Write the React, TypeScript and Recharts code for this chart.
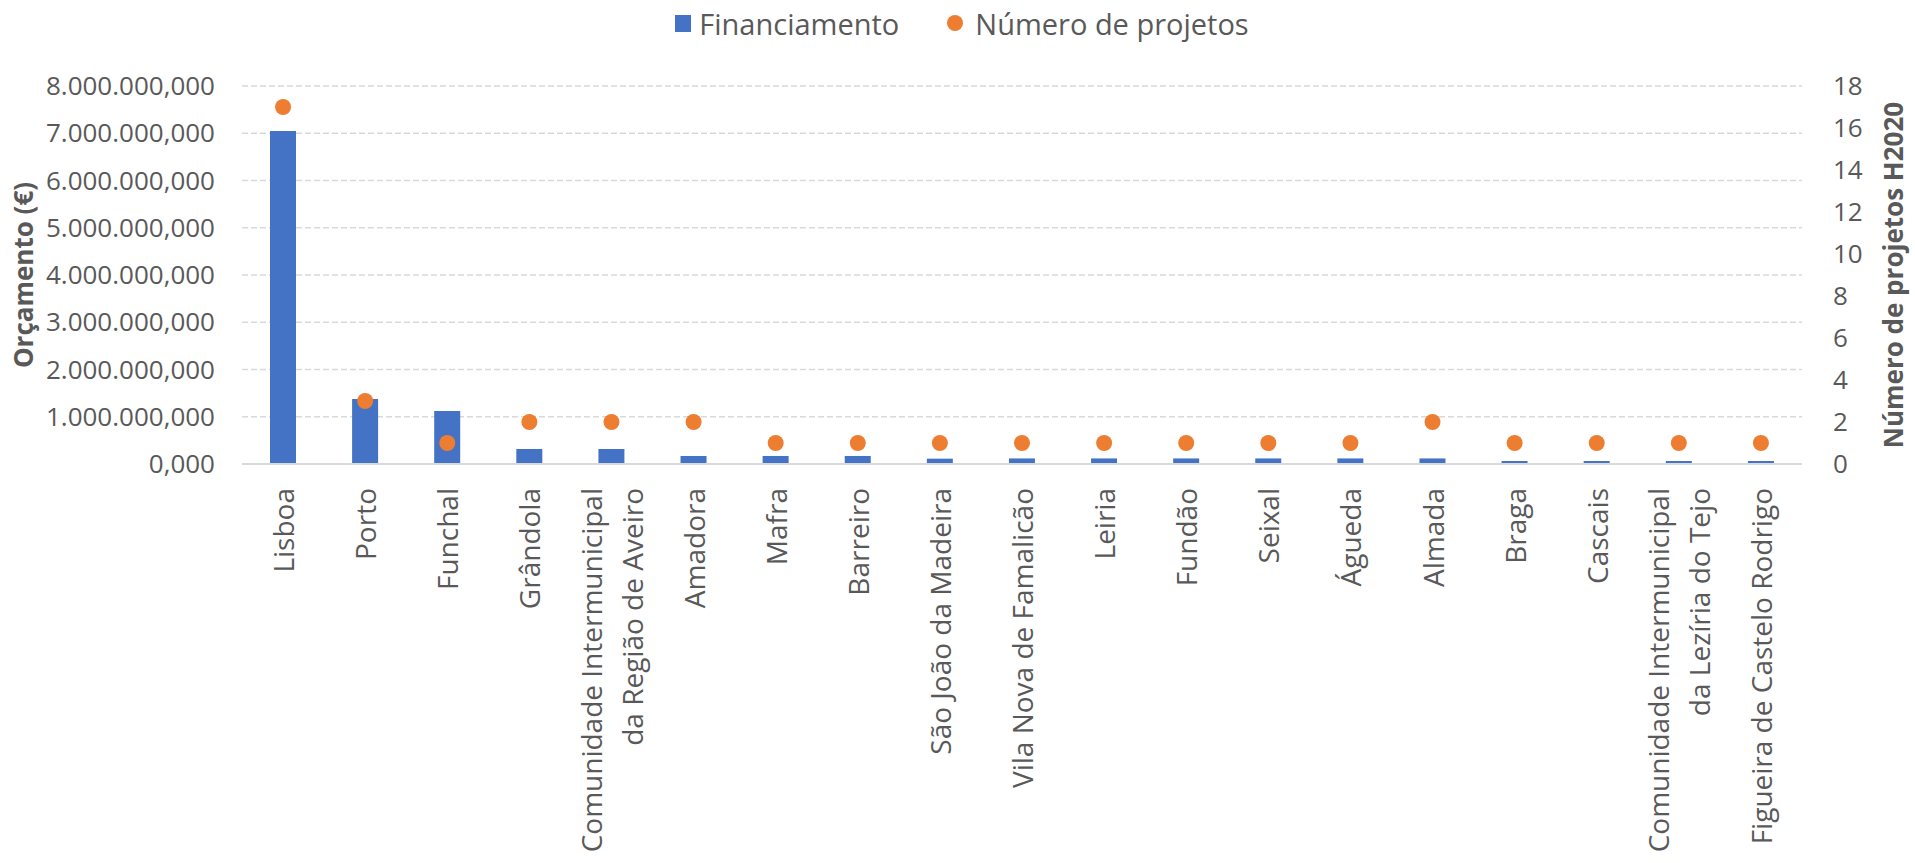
import React from "react";
import {
  ComposedChart,
  Bar,
  Line,
  XAxis,
  YAxis,
  CartesianGrid,
  Legend,
} from "recharts";

// categorias (quebra de linha onde o Excel parte o rótulo)
const CATEGORIES = [
  "Lisboa",
  "Porto",
  "Funchal",
  "Grândola",
  "Comunidade Intermunicipal\nda Região de Aveiro",
  "Amadora",
  "Mafra",
  "Barreiro",
  "São João da Madeira",
  "Vila Nova de Famalicão",
  "Leiria",
  "Fundão",
  "Seixal",
  "Águeda",
  "Almada",
  "Braga",
  "Cascais",
  "Comunidade Intermunicipal\nda Lezíria do Tejo",
  "Figueira de Castelo Rodrigo",
];

const FINANCIAMENTO = [
  7050000, 1375000, 1120000, 318000, 318000, 170000, 170000, 170000, 113000,
  118000, 118000, 118000, 118000, 118000, 118000, 64000, 64000, 64000, 64000,
];

const PROJETOS = [17, 3, 1, 2, 2, 2, 1, 1, 1, 1, 1, 1, 1, 1, 2, 1, 1, 1, 1];

const LEFT_TICKS = [0, 1000000, 2000000, 3000000, 4000000, 5000000, 6000000, 7000000, 8000000];
const RIGHT_TICKS = [0, 2, 4, 6, 8, 10, 12, 14, 16, 18];

const BLUE = "#4472C4";
const ORANGE = "#ED7D31";
const TEXT = "#595959";
const FONT = "'Open Sans', 'Noto Sans', sans-serif";

const data = CATEGORIES.map((name, i) => ({
  name,
  financiamento: FINANCIAMENTO[i],
  projetos: PROJETOS[i],
}));

function fmtEuro(v: number) {
  const int = Math.round(v).toString().replace(/\B(?=(\d{3})+(?!\d))/g, ".");
  return `${int},000`;
}

function CategoryTick({ x, y, payload }: any) {
  const lines = String(payload.value).split("\n");
  const step = 41;
  const first = 11 - ((lines.length - 1) * step) / 2;
  return (
    <g transform={`translate(${x},${y}) rotate(-90)`}>
      {lines.map((l, i) => (
        <text
          key={i}
          x={0}
          y={first + i * step}
          textAnchor="end"
          fill={TEXT}
          fontSize={28}
          fontFamily={FONT}
        >
          {l}
        </text>
      ))}
    </g>
  );
}

function LegendBox() {
  return (
    <div
      style={{
        height: 50,
        display: "flex",
        justifyContent: "center",
        alignItems: "center",
        fontFamily: FONT,
        fontSize: 29,
        color: TEXT,
        paddingLeft: 9,
      }}
    >
      <span style={{ display: "flex", alignItems: "center" }}>
        <span style={{ width: 16, height: 17, background: BLUE, marginRight: 8 }} />
        Financiamento
      </span>
      <span style={{ display: "flex", alignItems: "center", marginLeft: 48 }}>
        <span
          style={{ width: 16, height: 16, borderRadius: 8, background: ORANGE, marginRight: 12 }}
        />
        Número de projetos
      </span>
    </div>
  );
}

export default function App() {
  return (
    <div
      style={{
        position: "absolute",
        left: 0,
        top: 0,
        width: 1915,
        height: 863,
        background: "#fff",
        fontFamily: FONT,
      }}
    >
      <ComposedChart
        width={1915}
        height={863}
        data={data}
        margin={{ top: 36, right: 0, bottom: 0, left: 0 }}
      >
        <Legend
          verticalAlign="top"
          align="center"
          content={() => <LegendBox />}
          wrapperStyle={{ top: -2, left: 0, width: 1915 }}
        />
        <CartesianGrid
          vertical={false}
          yAxisId="left"
          stroke="#d9d9d9"
          strokeWidth={1.5}
          strokeDasharray="6 3"
        />
        <XAxis
          dataKey="name"
          interval={0}
          height={399}
          tickLine={false}
          axisLine={{ stroke: "#d9d9d9", strokeWidth: 2 }}
          tick={<CategoryTick />}
          tickSize={0}
          tickMargin={24}
        />
        <YAxis
          yAxisId="left"
          width={242}
          domain={[0, 8000000]}
          ticks={LEFT_TICKS}
          tickFormatter={fmtEuro}
          axisLine={false}
          tickLine={false}
          tickSize={0}
          tickMargin={27}
          tick={{ fill: TEXT, fontSize: 26, fontFamily: FONT }}
          label={{
            content: ({ viewBox }: any) => {
              const cx = viewBox.x + 23;
              const cy = viewBox.y + viewBox.height / 2;
              return (
                <text
                  x={cx}
                  y={cy}
                  transform={`rotate(-90, ${cx}, ${cy})`}
                  textAnchor="middle"
                  dominantBaseline="central"
                  fill={TEXT}
                  fontSize={26}
                  fontWeight="bold"
                  fontFamily={FONT}
                >
                  Orçamento (€)
                </text>
              );
            },
          }}
        />
        <YAxis
          yAxisId="right"
          orientation="right"
          width={113}
          domain={[0, 18]}
          ticks={RIGHT_TICKS}
          axisLine={false}
          tickLine={false}
          tickSize={0}
          tickMargin={31}
          tick={{ fill: TEXT, fontSize: 26, fontFamily: FONT, textAnchor: "start" }}
          label={{
            content: ({ viewBox }: any) => {
              const cx = viewBox.x + 91;
              const cy = viewBox.y + viewBox.height / 2;
              return (
                <text
                  x={cx}
                  y={cy}
                  transform={`rotate(-90, ${cx}, ${cy})`}
                  textAnchor="middle"
                  dominantBaseline="central"
                  fill={TEXT}
                  fontSize={26}
                  fontWeight="bold"
                  fontFamily={FONT}
                >
                  Número de projetos H2020
                </text>
              );
            },
          }}
        />
        <Bar
          yAxisId="left"
          dataKey="financiamento"
          name="Financiamento"
          fill={BLUE}
          barSize={26}
          isAnimationActive={false}
        />
        <Line
          yAxisId="right"
          dataKey="projetos"
          name="Número de projetos"
          stroke="none"
          dot={{ r: 8, fill: ORANGE, stroke: "none" }}
          activeDot={false}
          isAnimationActive={false}
        />
      </ComposedChart>
    </div>
  );
}
